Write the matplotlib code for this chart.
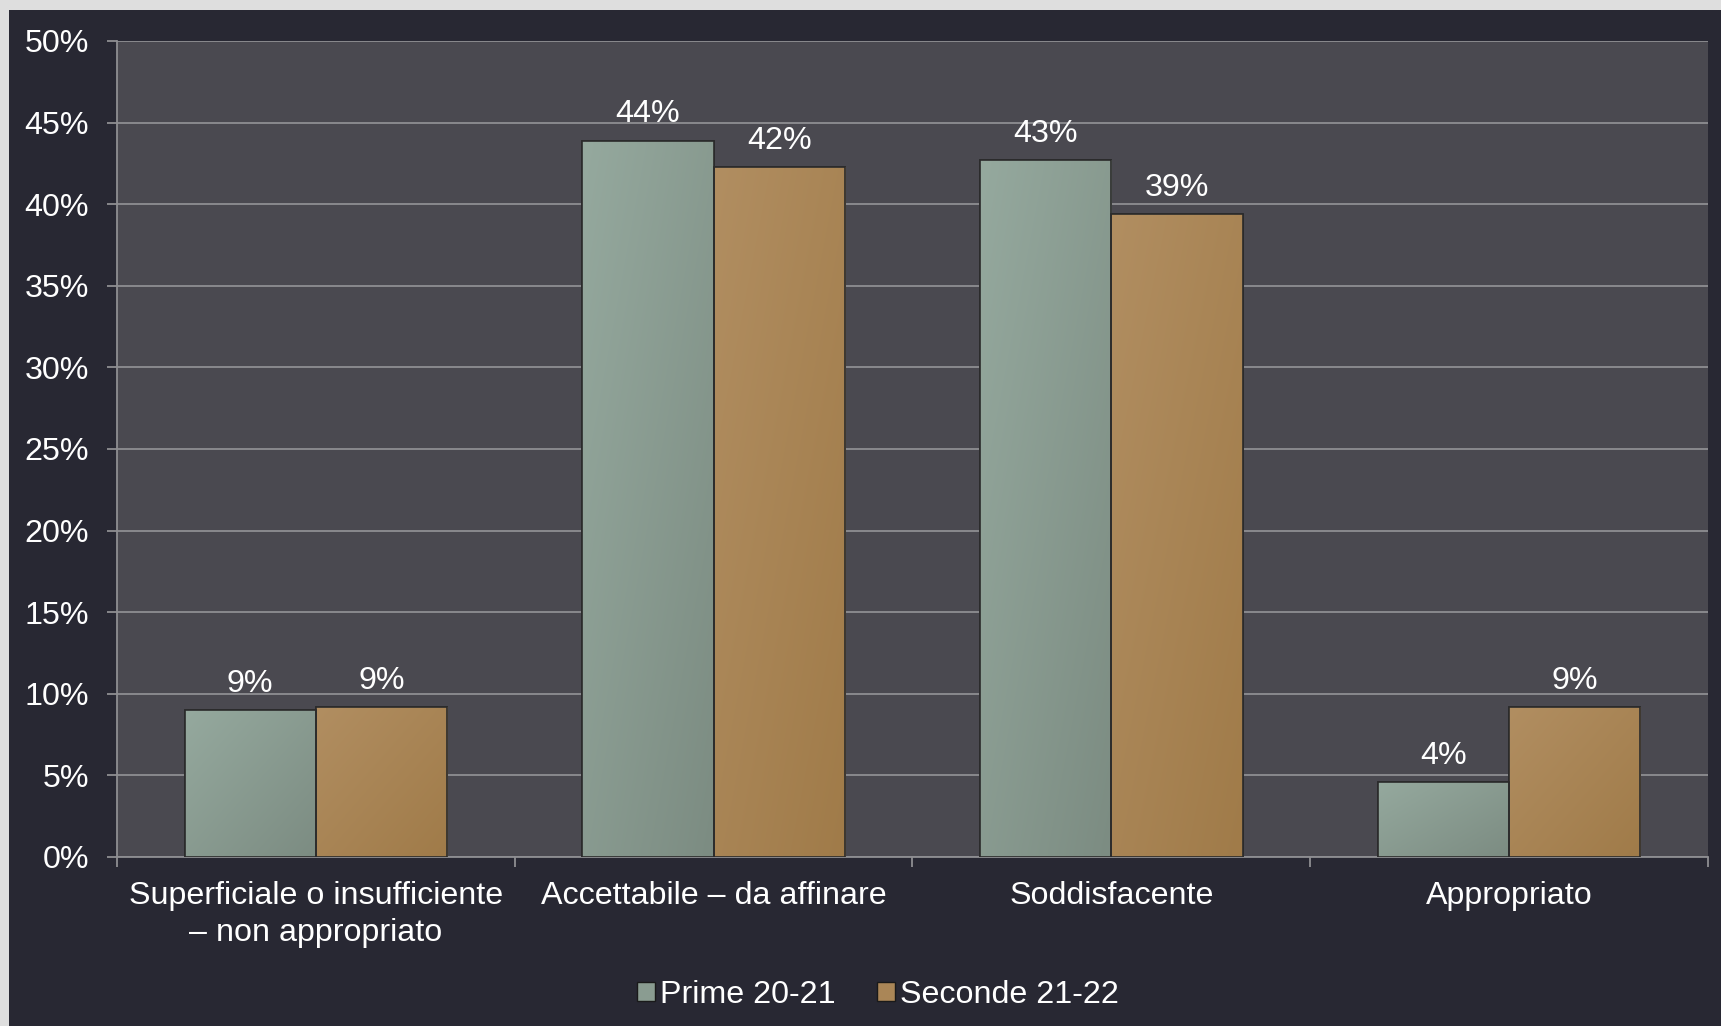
import matplotlib
matplotlib.use('Agg')
import matplotlib.pyplot as plt
import numpy as np
from matplotlib.patches import Rectangle
from matplotlib.colors import LinearSegmentedColormap

# Dati
categories = ['Superficiale o insufficiente\n– non appropriato',
              'Accettabile – da affinare',
              'Soddisfacente',
              'Appropriato']
series_names = ['Prime 20-21', 'Seconde 21-22']
prime = [9.0, 43.9, 42.7, 4.6]
seconde = [9.2, 42.3, 39.4, 9.2]
prime_labels = ['9%', '44%', '43%', '4%']
seconde_labels = ['9%', '42%', '39%', '9%']
yticks = list(range(0, 51, 5))

W, H = 1721, 1026
DPI = 100
plt.rcParams['font.family'] = ['Liberation Sans', 'DejaVu Sans']

fig = plt.figure(figsize=(W / DPI, H / DPI), dpi=DPI, facecolor='#dedede')
# pannello scuro
fig.patches.append(Rectangle((9 / W, 0), 1 - 9 / W, 1 - 10 / H,
                             transform=fig.transFigure, facecolor='#282833',
                             edgecolor='none', zorder=-10))

ax = fig.add_axes([117 / W, 1 - 857 / H, (1708 - 117) / W, (857 - 41) / H])
ax.set_zorder(2)
ax.set_facecolor('#4a4950')

grid_col = '#8e8e92'
text_col = 'white'
fs = 23.2

x = np.arange(len(categories))
bw = 0.33

cmaps = [
    LinearSegmentedColormap.from_list('g', ['#95a99e', '#7c8c82']),
    LinearSegmentedColormap.from_list('o', ['#b18e61', '#a07b49']),
]
base_cols = ['#8a9c91', '#aa8657']
edge_col = '#2b2b2b'

for k, (vals, labs) in enumerate([(prime, prime_labels), (seconde, seconde_labels)]):
    xs = x - bw / 2 + k * bw
    bars = ax.bar(xs, vals, width=bw, color=base_cols[k], edgecolor=edge_col,
                  linewidth=1.2, zorder=3, label=series_names[k])
    for b, lab in zip(bars, labs):
        x0, w, h = b.get_x(), b.get_width(), b.get_height()
        # gradiente diagonale dentro la barra
        gx, gy = np.meshgrid(np.linspace(0, 1, 60), np.linspace(0, 1, 60))
        grad = (gx + gy) / 2
        im = ax.imshow(grad, cmap=cmaps[k], extent=[x0, x0 + w, 0, h],
                       aspect='auto', origin='upper', zorder=3.5, interpolation='bilinear')
        im.set_clip_path(b)
        ax.add_patch(Rectangle((x0, 0), w, h, facecolor='none', edgecolor=edge_col,
                               linewidth=1.2, zorder=4))
        ax.annotate(lab, (x0 + w / 2, h), xytext=(0, 13), textcoords='offset points',
                    ha='center', va='baseline', color=text_col, fontsize=fs)

ax.set_xlim(-0.5, len(categories) - 0.5)
ax.set_ylim(0, 50)
ax.set_yticks(yticks)
ax.set_yticklabels([f'{v}%' for v in yticks])
ax.yaxis.grid(True, color=grid_col, linewidth=1.3, zorder=1)
ax.set_axisbelow(True)

ax.set_xticks(np.arange(-0.5, len(categories), 1.0))
ax.set_xticklabels([])
ax.set_xticks(x, minor=True)
ax.set_xticklabels(categories, minor=True, fontsize=fs, color=text_col, linespacing=1.3)
ax.tick_params(axis='x', which='minor', length=0, pad=17)
ax.tick_params(axis='x', which='major', length=7, width=1.3, color=grid_col, direction='out')
ax.tick_params(axis='y', length=7, width=1.3, color=grid_col, labelsize=fs,
               labelcolor=text_col, pad=13)

for s in ['top', 'right']:
    ax.spines[s].set_visible(False)
for s in ['left', 'bottom']:
    ax.spines[s].set_color(grid_col)
    ax.spines[s].set_linewidth(1.3)

leg = fig.legend(loc='center', bbox_to_anchor=(878 / W, 1 - 995 / H), ncol=2,
                 frameon=False, fontsize=fs, labelcolor=text_col,
                 handlelength=0.55, handleheight=0.55, handletextpad=0.15,
                 columnspacing=1.3)
for hnd in leg.legend_handles:
    hnd.set_edgecolor('#1a1a1a')
    hnd.set_linewidth(1.0)

fig.savefig('out.png', dpi=DPI, facecolor=fig.get_facecolor())
